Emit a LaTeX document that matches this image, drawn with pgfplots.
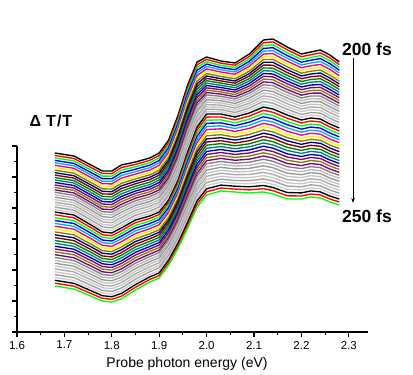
\documentclass[border=0pt]{standalone}
\usepackage{pgfplots}
\usepackage{pgfplotstable}
\usepackage{fontspec}
\setmainfont{Liberation Sans}
\usetikzlibrary{arrows.meta}
\pgfplotsset{compat=1.18}
\definecolor{oGreen}{RGB}{0,255,0}
\definecolor{oOlive}{RGB}{128,128,0}
\definecolor{oNavy}{RGB}{0,0,128}
\definecolor{oPurple}{RGB}{128,0,128}
\definecolor{oWine}{RGB}{128,0,0}
\definecolor{oDkGreen}{RGB}{0,128,0}
\definecolor{oTeal}{RGB}{0,128,128}
\definecolor{oRoyal}{RGB}{0,0,170}
\definecolor{oLtGrayA}{RGB}{185,185,185}
\definecolor{oGrayA}{RGB}{150,150,150}
\definecolor{oLtGrayB}{RGB}{195,195,195}
\definecolor{oGrayB}{RGB}{128,128,128}
\definecolor{oLtGrayC}{RGB}{200,200,200}
\definecolor{oGrayC}{RGB}{170,170,170}
\definecolor{oLtGrayD}{RGB}{205,205,205}
\definecolor{oGrayD}{RGB}{160,160,160}
\pgfplotscreateplotcyclelist{origin}{
black\\red\\oGreen\\blue\\cyan\\magenta\\yellow\\oOlive\\oNavy\\oWine\\oDkGreen\\oTeal\\oRoyal\\oPurple\\oOlive\\oPurple\\oGrayB\\oLtGrayA\\oGrayA\\oLtGrayB\\oGrayC\\oLtGrayC\\oGrayD\\oLtGrayD\\
}
\pgfplotstableread[header=false]{
1.68 179.0 176.5 174.1 171.6 169.2 166.7 164.3 161.8 159.3 156.9 154.4 152.0 149.5 147.0 144.6 142.1 139.7 137.2 134.8 132.3 129.8 127.4 124.9 122.5 120.0 117.2 114.3 111.5 108.6 105.8 102.9 100.1 97.2 94.4 91.5 88.7 85.8 83.0 80.2 77.3 74.5 71.6 68.8 65.9 63.1 60.2 57.4 54.5 51.7 48.8 46.0
1.72 176.0 173.5 171.1 168.6 166.2 163.7 161.3 158.8 156.3 153.9 151.4 149.0 146.5 144.0 141.6 139.1 136.7 134.2 131.8 129.3 126.8 124.4 121.9 119.5 117.0 114.2 111.3 108.5 105.6 102.8 99.9 97.1 94.2 91.4 88.5 85.7 82.8 80.0 77.2 74.3 71.5 68.6 65.8 62.9 60.1 57.2 54.4 51.5 48.7 45.8 43.0
1.76 166.0 163.5 161.0 158.5 156.0 153.5 151.0 148.5 146.0 143.5 141.0 138.5 136.0 133.5 131.0 128.5 126.0 123.5 121.0 118.5 116.0 113.5 111.0 108.5 106.0 103.3 100.5 97.8 95.1 92.3 89.6 86.9 84.2 81.4 78.7 76.0 73.2 70.5 67.8 65.0 62.3 59.6 56.8 54.1 51.4 48.7 45.9 43.2 40.5 37.7 35.0
1.78 161.0 158.5 155.9 153.4 150.8 148.3 145.8 143.2 140.7 138.1 135.6 133.0 130.5 128.0 125.4 122.9 120.3 117.8 115.3 112.7 110.2 107.6 105.1 102.5 100.0 97.3 94.7 92.0 89.4 86.7 84.1 81.4 78.8 76.1 73.5 70.8 68.2 65.5 62.9 60.2 57.5 54.9 52.2 49.6 46.9 44.3 41.6 39.0 36.3 33.7 31.0
1.80 161.0 158.4 155.8 153.3 150.7 148.1 145.5 142.9 140.3 137.8 135.2 132.6 130.0 127.4 124.8 122.3 119.7 117.1 114.5 111.9 109.3 106.8 104.2 101.6 99.0 96.3 93.7 91.0 88.4 85.7 83.1 80.4 77.8 75.1 72.5 69.8 67.2 64.5 61.9 59.2 56.5 53.9 51.2 48.6 45.9 43.3 40.6 38.0 35.3 32.7 30.0
1.82 167.0 164.4 161.8 159.1 156.5 153.9 151.3 148.6 146.0 143.4 140.8 138.1 135.5 132.9 130.3 127.6 125.0 122.4 119.8 117.1 114.5 111.9 109.3 106.6 104.0 101.3 98.5 95.8 93.1 90.3 87.6 84.9 82.2 79.4 76.7 74.0 71.2 68.5 65.8 63.0 60.3 57.6 54.8 52.1 49.4 46.7 43.9 41.2 38.5 35.7 33.0
1.85 170.0 167.6 165.2 162.8 160.3 157.9 155.5 153.1 150.7 148.3 145.8 143.4 141.0 138.6 136.2 133.8 131.3 128.9 126.5 124.1 121.7 119.3 116.8 114.4 112.0 109.3 106.6 103.9 101.2 98.5 95.8 93.2 90.5 87.8 85.1 82.4 79.7 77.0 74.3 71.6 68.9 66.2 63.5 60.8 58.2 55.5 52.8 50.1 47.4 44.7 42.0
1.88 174.0 171.6 169.2 166.8 164.3 161.9 159.5 157.1 154.7 152.3 149.8 147.4 145.0 142.6 140.2 137.8 135.3 132.9 130.5 128.1 125.7 123.3 120.8 118.4 116.0 113.5 110.9 108.4 105.8 103.3 100.8 98.2 95.7 93.2 90.6 88.1 85.5 83.0 80.5 77.9 75.4 72.8 70.3 67.8 65.2 62.7 60.2 57.6 55.1 52.5 50.0
1.90 179.0 176.5 174.1 171.6 169.2 166.7 164.3 161.8 159.3 156.9 154.4 152.0 149.5 147.0 144.6 142.1 139.7 137.2 134.8 132.3 129.8 127.4 124.9 122.5 120.0 117.5 114.9 112.4 109.8 107.3 104.8 102.2 99.7 97.2 94.6 92.1 89.5 87.0 84.5 81.9 79.4 76.8 74.3 71.8 69.2 66.7 64.2 61.6 59.1 56.5 54.0
1.92 192.0 189.5 187.0 184.5 182.0 179.5 177.0 174.5 172.0 169.5 167.0 164.5 162.0 159.5 157.0 154.5 152.0 149.5 147.0 144.5 142.0 139.5 137.0 134.5 132.0 129.5 127.0 124.5 122.0 119.5 117.0 114.5 112.0 109.5 107.0 104.5 102.0 99.5 97.0 94.5 92.0 89.5 87.0 84.5 82.0 79.5 77.0 74.5 72.0 69.5 67.0
1.94 217.0 214.3 211.6 208.9 206.2 203.5 200.8 198.0 195.3 192.6 189.9 187.2 184.5 181.8 179.1 176.4 173.7 171.0 168.3 165.5 162.8 160.1 157.4 154.7 152.0 149.4 146.8 144.2 141.5 138.9 136.3 133.7 131.1 128.5 125.8 123.2 120.6 118.0 115.4 112.8 110.2 107.5 104.9 102.3 99.7 97.1 94.5 91.8 89.2 86.6 84.0
1.96 247.0 244.2 241.4 238.6 235.8 233.0 230.3 227.5 224.7 221.9 219.1 216.3 213.5 210.7 207.9 205.1 202.3 199.5 196.8 194.0 191.2 188.4 185.6 182.8 180.0 177.1 174.2 171.2 168.3 165.4 162.5 159.5 156.6 153.7 150.8 147.8 144.9 142.0 139.1 136.2 133.2 130.3 127.4 124.5 121.5 118.6 115.7 112.8 109.8 106.9 104.0
1.98 270.0 267.3 264.6 261.9 259.2 256.5 253.8 251.0 248.3 245.6 242.9 240.2 237.5 234.8 232.1 229.4 226.7 224.0 221.3 218.5 215.8 213.1 210.4 207.7 205.0 201.9 198.8 195.8 192.7 189.6 186.5 183.5 180.4 177.3 174.2 171.2 168.1 165.0 161.9 158.8 155.8 152.7 149.6 146.5 143.5 140.4 137.3 134.2 131.2 128.1 125.0
2.00 275.0 272.6 270.3 267.9 265.5 263.1 260.8 258.4 256.0 253.6 251.3 248.9 246.5 244.1 241.8 239.4 237.0 234.6 232.3 229.9 227.5 225.1 222.8 220.4 218.0 214.9 211.8 208.7 205.5 202.4 199.3 196.2 193.1 190.0 186.8 183.7 180.6 177.5 174.4 171.3 168.2 165.0 161.9 158.8 155.7 152.6 149.5 146.3 143.2 140.1 137.0
2.03 271.0 268.8 266.6 264.4 262.2 260.0 257.8 255.5 253.3 251.1 248.9 246.7 244.5 242.3 240.1 237.9 235.7 233.5 231.3 229.0 226.8 224.6 222.4 220.2 218.0 215.0 212.1 209.1 206.2 203.2 200.2 197.3 194.3 191.3 188.4 185.4 182.5 179.5 176.5 173.6 170.6 167.7 164.7 161.7 158.8 155.8 152.8 149.9 146.9 144.0 141.0
2.06 269.0 266.8 264.5 262.3 260.0 257.8 255.5 253.3 251.0 248.8 246.5 244.3 242.0 239.8 237.5 235.3 233.0 230.8 228.5 226.3 224.0 221.8 219.5 217.3 215.0 212.1 209.2 206.3 203.5 200.6 197.7 194.8 191.9 189.0 186.2 183.3 180.4 177.5 174.6 171.7 168.8 166.0 163.1 160.2 157.3 154.4 151.5 148.7 145.8 142.9 140.0
2.09 278.0 275.5 273.1 270.6 268.2 265.7 263.3 260.8 258.3 255.9 253.4 251.0 248.5 246.0 243.6 241.1 238.7 236.2 233.8 231.3 228.8 226.4 223.9 221.5 219.0 215.9 212.8 209.8 206.7 203.6 200.5 197.5 194.4 191.3 188.2 185.2 182.1 179.0 175.9 172.8 169.8 166.7 163.6 160.5 157.5 154.4 151.3 148.2 145.2 142.1 139.0
2.12 292.0 289.2 286.4 283.6 280.8 278.0 275.3 272.5 269.7 266.9 264.1 261.3 258.5 255.7 252.9 250.1 247.3 244.5 241.8 239.0 236.2 233.4 230.6 227.8 225.0 221.7 218.5 215.2 211.9 208.7 205.4 202.1 198.8 195.6 192.3 189.0 185.8 182.5 179.2 176.0 172.7 169.4 166.2 162.9 159.6 156.3 153.1 149.8 146.5 143.3 140.0
2.14 293.0 290.1 287.2 284.3 281.3 278.4 275.5 272.6 269.7 266.8 263.8 260.9 258.0 255.1 252.2 249.3 246.3 243.4 240.5 237.6 234.7 231.8 228.8 225.9 223.0 219.7 216.5 213.2 209.9 206.7 203.4 200.1 196.8 193.6 190.3 187.0 183.8 180.5 177.2 174.0 170.7 167.4 164.2 160.9 157.6 154.3 151.1 147.8 144.5 141.3 138.0
2.17 285.0 282.2 279.3 276.5 273.7 270.8 268.0 265.2 262.3 259.5 256.7 253.8 251.0 248.2 245.3 242.5 239.7 236.8 234.0 231.2 228.3 225.5 222.7 219.8 217.0 213.8 210.5 207.3 204.1 200.8 197.6 194.4 191.2 187.9 184.7 181.5 178.2 175.0 171.8 168.5 165.3 162.1 158.8 155.6 152.4 149.2 145.9 142.7 139.5 136.2 133.0
2.20 278.0 275.3 272.5 269.8 267.0 264.3 261.5 258.8 256.0 253.3 250.5 247.8 245.0 242.3 239.5 236.8 234.0 231.3 228.5 225.8 223.0 220.3 217.5 214.8 212.0 209.0 205.9 202.9 199.8 196.8 193.8 190.7 187.7 184.7 181.6 178.6 175.5 172.5 169.5 166.4 163.4 160.3 157.3 154.3 151.2 148.2 145.2 142.1 139.1 136.0 133.0
2.22 280.0 277.3 274.5 271.8 269.0 266.3 263.5 260.8 258.0 255.3 252.5 249.8 247.0 244.3 241.5 238.8 236.0 233.3 230.5 227.8 225.0 222.3 219.5 216.8 214.0 211.0 207.9 204.9 201.8 198.8 195.8 192.7 189.7 186.7 183.6 180.6 177.5 174.5 171.5 168.4 165.4 162.3 159.3 156.3 153.2 150.2 147.2 144.1 141.1 138.0 135.0
2.24 282.0 279.1 276.3 273.4 270.5 267.6 264.8 261.9 259.0 256.1 253.3 250.4 247.5 244.6 241.8 238.9 236.0 233.1 230.3 227.4 224.5 221.6 218.8 215.9 213.0 210.0 206.9 203.9 200.8 197.8 194.8 191.7 188.7 185.7 182.6 179.6 176.5 173.5 170.5 167.4 164.4 161.3 158.3 155.3 152.2 149.2 146.2 143.1 140.1 137.0 134.0
2.26 277.0 274.1 271.3 268.4 265.5 262.6 259.8 256.9 254.0 251.1 248.3 245.4 242.5 239.6 236.8 233.9 231.0 228.1 225.3 222.4 219.5 216.6 213.8 210.9 208.0 205 202 199 196 193 190 187 184 181 178 175 172 169 166 163 160 157 154 151 148 145 142 139 136 133 130
2.28 270.0 267.3 264.5 261.8 259.0 256.3 253.5 250.8 248.0 245.3 242.5 239.8 237.0 234.3 231.5 228.8 226.0 223.3 220.5 217.8 215.0 212.3 209.5 206.8 204.0 201.0 198.1 195.1 192.2 189.2 186.2 183.3 180.3 177.3 174.4 171.4 168.5 165.5 162.5 159.6 156.6 153.7 150.7 147.7 144.8 141.8 138.8 135.9 132.9 130.0 127.0
}\curves
\begin{document}
\begin{tikzpicture}
\begin{axis}[
  x=474pt, y=1pt,
  xmin=1.6, xmax=2.34, ymin=0, ymax=186,
  axis x line*=bottom, axis y line*=left,
  axis line style={line width=1.4pt},
  xtick={1.6,1.7,1.8,1.9,2.0,2.1,2.2,2.3},
  minor x tick num=1,
  ytick={0,31,62,93,124,155,186},
  minor y tick num=1,
  yticklabels={},
  tick align=outside,
  major tick length=4.5pt, minor tick length=3pt,
  tick style={black, line width=1.1pt},
  xticklabel style={font=\fontsize{11.5}{13}\selectfont, yshift=-1pt, /pgf/number format/.cd, fixed, fixed zerofill, precision=1, assume math mode=true},
  clip=false,
  cycle list name=origin,
  every axis plot/.append style={line width=1.35pt, mark=none, line join=round},
]
\pgfplotsinvokeforeach{1,...,51}{\addplot table[x index=0, y index=#1]{\curves};}
\node[font=\bfseries\fontsize{16}{19}\selectfont] at (axis cs:1.6717,211) {Δ\hspace{5pt}T\hspace{1pt}/\hspace{1pt}T};
\node[font=\bfseries\fontsize{17.5}{20}\selectfont] at (axis cs:2.3384,283) {200 fs};
\node[font=\bfseries\fontsize{17.5}{20}\selectfont] at (axis cs:2.3384,116) {250 fs};
\draw[-{Stealth[length=5pt,width=3.5pt]}, line width=0.8pt] (axis cs:2.3089,274) -- (axis cs:2.3089,129);
\node[font=\fontsize{14}{16}\selectfont] at (axis cs:1.9587,-32) {Probe photon energy (eV)};
\path (axis cs:1.56414,-42) rectangle (axis cs:2.43544,332);
\end{axis}
\end{tikzpicture}
\end{document}
